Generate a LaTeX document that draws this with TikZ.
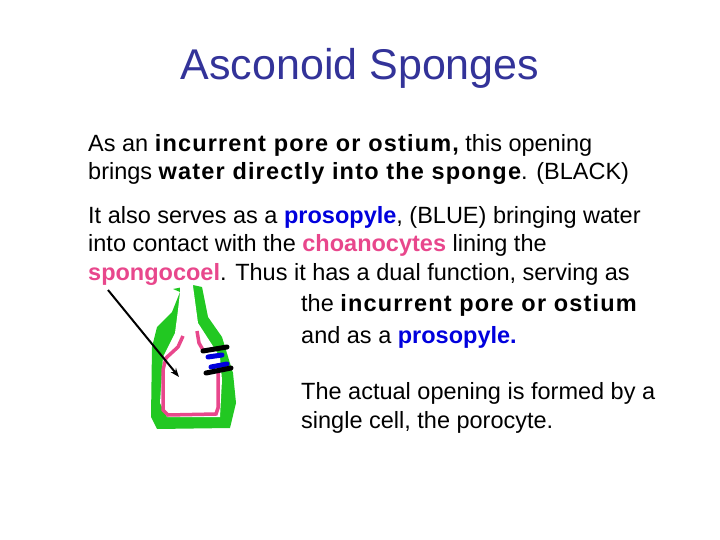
\documentclass[tikz,border=0pt]{standalone}
\usepackage{fontspec}
\setmainfont{Liberation Sans}
\usetikzlibrary{arrows.meta}
\definecolor{titleblue}{HTML}{333399}
\definecolor{pinkc}{HTML}{E8478C}
\definecolor{greenc}{HTML}{22C822}
\definecolor{bluec}{HTML}{0000DD}
\tikzstyle{line} = [anchor=west, inner sep=0pt, font=\fontsize{23.5}{26}\selectfont]
\tikzstyle{bar} = [line width=5pt, line cap=round]
\newcommand{\wide}[1]{{\bfseries\addfontfeature{LetterSpace=5}#1}}
\newcommand{\pinkword}[1]{\textcolor{pinkc}{\textbf{#1}}}
\newcommand{\blueword}[1]{\textcolor{bluec}{\textbf{#1}}}
\begin{document}
\begin{tikzpicture}[x=1pt, y=-1pt]
            \useasboundingbox (0,0) rectangle (720,540);
            \node (title) [font=\fontsize{43}{48}\selectfont, text=titleblue] at (360,68) {Asconoid Sponges};

            \node (l1) [line] at (88,145) {As an \wide{incurrent pore or ostium,} this opening};
            \node (l2) [line] at (88,173) {brings \wide{water directly into the sponge}. (BLACK)};
            \node (l3) [line] at (88,217) {It also serves as a \blueword{prosopyle}, (BLUE) bringing water};
            \node (l4) [line] at (88,245) {into contact with the \pinkword{choanocytes} lining the};
            \node (l5) [line] at (88,274) {\pinkword{spongocoel}. Thus it has a dual function, serving as};
            \node (l6) [line] at (301,305) {the \wide{incurrent pore or ostium}};
            \node (l7) [line] at (301,337) {and as a \blueword{prosopyle.}};
            \node (l8) [line] at (301,393) {The actual opening is formed by a};
            \node (l9) [line] at (301,422) {single cell, the porocyte.};

            % sponge body
            \fill [greenc] (173,289) -- (180,292) -- (172,312) -- (157,327) -- (152,347) -- (151,417)
                -- (157,429) -- (230,428) -- (236,403) -- (233,373) -- (222,337) -- (208,317)
                -- (202,287) -- (193,285) -- cycle;
            \fill [white] (180,280) -- (180,292) -- (178,310) -- (175,333) -- (163,357) -- (160,403)
                -- (167,417) -- (220,417) -- (222,380) -- (220,357) -- (198,323) -- (193,286)
                -- (193,280) -- cycle;
            % choanocyte lining
            \draw [pinkc, line width=3.5pt] (183,336) -- (178,347) -- (166,358) -- (163,370)
                -- (163,410) -- (168,415) -- (216,414) -- (218,408) -- (218,370);
            \draw [pinkc, line width=3.5pt] (197,331) -- (199,343) -- (203,350);
            % pore
            \draw [bar, black] (203,351) -- (227,347);
            \draw [bar, bluec] (208,357) -- (222,355);
            \draw [bar, bluec] (211,367) -- (227,364);
            \draw [bar, black] (206,373) -- (231,368);

            \coordinate (tail) at (108,290);
            \coordinate (tip) at (179,377);
            \draw [line width=2pt, -{Stealth[length=9pt]}] (tail) -- (tip);
        \end{tikzpicture}
\end{document}
